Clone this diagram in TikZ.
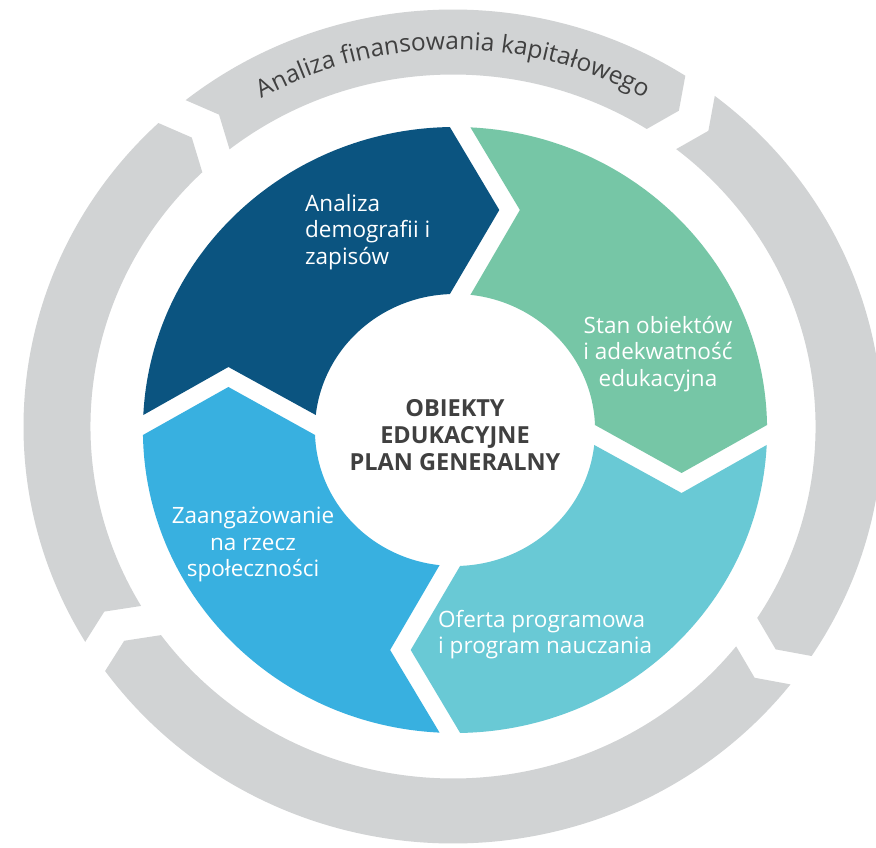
\documentclass[tikz,border=0pt]{standalone}
\usepackage{fontspec}
\setmainfont{Open Sans}
\usetikzlibrary{decorations.text}
\definecolor{cDark}{HTML}{0B5480}
\definecolor{cGreen}{HTML}{76C6A6}
\definecolor{cTeal}{HTML}{69C9D5}
\definecolor{cLight}{HTML}{38B0E0}
\definecolor{cGray}{HTML}{D1D3D4}
\definecolor{cText}{HTML}{404040}
% gray ring parameters
\def\GRo{417}\def\GRi{352}\def\GRm{384.5}\def\Gg{17.5}\def\Gp{15}
% coloured ring parameters
\def\CRo{303}\def\CRi{136}\def\CRm{220}\def\Cg{10}\def\Co{5}\def\Cp{48}
\newcommand\GraySeg[2]{%
  \fill[cGray]
    ({#1-asin(\Gg/\GRi)}:\GRi)
    -- ({#1-atan((\Gg+\Gp)/\GRm)}:{veclen(\Gg+\Gp,\GRm)})
    -- ({#1-asin(\Gg/\GRo)}:\GRo)
    arc[start angle={#1-asin(\Gg/\GRo)}, end angle={#2+asin(\Gg/\GRo)}, radius=\GRo]
    -- ({#2+atan((\Gg-\Gp)/\GRm)}:{veclen(\Gp-\Gg,\GRm)})
    -- ({#2+asin(\Gg/\GRi)}:\GRi)
    arc[start angle={#2+asin(\Gg/\GRi)}, end angle={#1-asin(\Gg/\GRi)}, radius=\GRi]
    -- cycle;}
\newcommand\ColSeg[2]{%
  \begin{scope}[rotate=#1]
  \fill[#2]
    ({90+acos((\Co+\Cg)/\CRi)}:\CRi)
    -- (-\CRm,{\Co+\Cg+\Cp})
    -- ({90+acos((\Co+\Cg)/\CRo)}:\CRo)
    arc[start angle={90+acos((\Co+\Cg)/\CRo)}, end angle={acos((\Co-\Cg)/\CRo)}, radius=\CRo]
    -- ({\Co-\Cg+\Cp},\CRm)
    -- ({acos((\Co-\Cg)/\CRi)}:\CRi)
    arc[start angle={acos((\Co-\Cg)/\CRi)}, end angle={90+acos((\Co+\Cg)/\CRi)}, radius=\CRi]
    -- cycle;
  \end{scope}}

\begin{document}
\begin{tikzpicture}[x=1pt,y=1pt,
  seglabel/.style={text=white, inner sep=0pt, font=\fontsize{22.5}{26.5}\selectfont},
  centerlabel/.style={text=cText, inner sep=0pt, align=center, font=\bfseries\fontsize{23.5}{27}\selectfont},
]
\useasboundingbox (0,0) rectangle (876,847);
\fill[white] (0,0) rectangle (876,847);
\clip (0,0) rectangle (876,847);

% outer gray ring of four arrows
\begin{scope}[shift={(453,420.5)}, xscale=1.03]
  \GraySeg{130.9}{54.85}
  \GraySeg{54.85}{-35.8}
  \GraySeg{-35.8}{-146.5}
  \GraySeg{-146.5}{-229.1}
\end{scope}

% inner coloured ring of four arrows
\begin{scope}[shift={(455,417)}, xscale=1.03]
  \ColSeg{0}{cDark}
  \ColSeg{-90}{cGreen}
  \ColSeg{-180}{cTeal}
  \ColSeg{-270}{cLight}
\end{scope}

% text along the top gray arrow
\path[decorate, decoration={text along path, text align=center,
  text={|\fontsize{24.5}{28}\selectfont\color{cText}|Analiza finansowania kapitałowego}}]
  (453,420.5) ++(130:388.3 and 377) arc[start angle=130, end angle=50, x radius=388.3, y radius=377];

% labels
\node[seglabel, align=left, anchor=west] (lblDark) at (305,615) {Analiza\\demografii i\\zapisów};
\node[seglabel, align=center] (lblGreen) at (658,493) {Stan obiektów\\i adekwatność\\edukacyjna};
\node[seglabel, align=left, anchor=west] (lblTeal) at (438,212.5) {Oferta programowa\\i program nauczania};
\node[seglabel, align=center] (lblLight) at (253,302.5) {Zaangażowanie\\na rzecz\\społeczności};
\node[centerlabel] (lblCenter) at (455,412) {OBIEKTY\\EDUKACYJNE\\PLAN GENERALNY};
\end{tikzpicture}
\end{document}
